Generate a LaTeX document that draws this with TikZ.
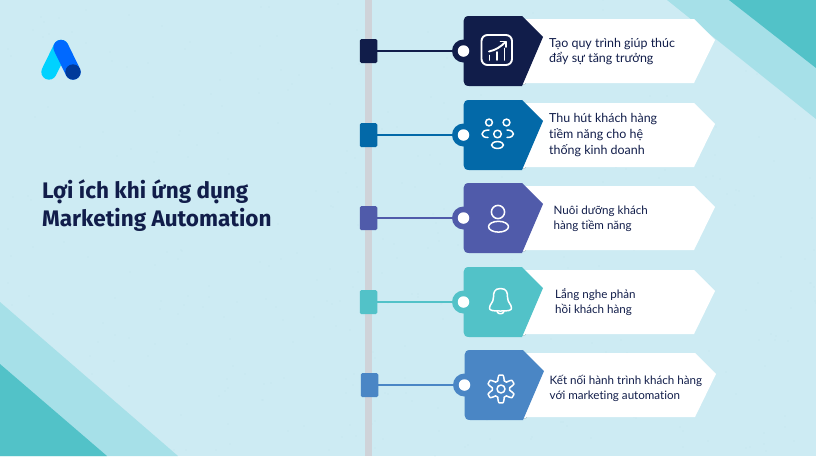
\documentclass[tikz,border=0pt]{standalone}
\usepackage{fontspec}
\setmainfont[Ligatures=NoCommon]{Lato}
\newfontfamily\ttlfont{Fira Sans}
\definecolor{bgc}{HTML}{CDEBF3}
\definecolor{bandl}{HTML}{A6E0E8}
\definecolor{bandd}{HTML}{52C2C8}
\definecolor{rail}{HTML}{CFD3D9}
\definecolor{ink}{HTML}{111D4A}
\definecolor{shade}{HTML}{C3D3DA}
\definecolor{dotc}{HTML}{B4DCE6}
\definecolor{cOne}{HTML}{111D4A}
\definecolor{cTwo}{HTML}{0369A8}
\definecolor{cThree}{HTML}{505BAA}
\definecolor{cFour}{HTML}{52C2C8}
\definecolor{cFive}{HTML}{4A86C5}
\tikzset{
  pin/.style={draw=none,fill=#1,rounded corners=1.5pt,minimum width=17.5pt,minimum height=24pt,inner sep=0pt},
  hole/.style={circle,fill=white,draw=none,minimum size=11.5pt,inner sep=0pt},
  wire/.style={line width=1.5pt},
  ico/.style={draw=white,line width=1.5pt,line cap=round,line join=round},
  lbl/.style={anchor=west,inner sep=0pt,font=\fontsize{11.6}{15}\selectfont,text=ink,align=left},
  lblbig/.style={anchor=west,inner sep=0pt,font=\fontsize{12.45}{15.7}\selectfont,text=ink,align=left},
  ttl/.style={anchor=west,inner sep=0pt,font=\ttlfont\fontsize{22.5}{28}\selectfont\bfseries,text=ink,align=left}
}
\newcommand{\tagrow}[4]{% #1 colour, #2 yshift, #3 xshift, #4 id
  \begin{scope}[shift={(#3,#2)}]
    \fill[shade] (524,30) -- (545,38) -- (525,84) -- (523,84) -- cycle;
    \fill[white] (520,19) -- (694,19) -- (715,40) -- (694,83) -- (520,83) -- cycle;
    \node[pin=#1] (sq#4) at (368.5,51) {};
    \node[hole] (h#4) at (463.5,51) {};
    \draw[wire,#1] (sq#4) -- (h#4);
    \fill[#1] (463.5,51) circle (11.5);
    \fill[#1] (469,16) -- (522,16) -- (543,37) -- (522,86) -- (469,86) .. controls (465.5,86) and (463.5,84) .. (463.5,81) -- (463.5,21) .. controls (463.5,18) and (465.5,16) .. (469,16) -- cycle;
    \node[hole] at (463.5,51) {};
  \end{scope}
}
\begin{document}
\begin{tikzpicture}[x=1pt,y=-1pt]
\useasboundingbox (0,0) rectangle (816,456);
\fill[bgc] (0,0) rectangle (816,456);
% faint dot texture
\pgfmathsetseed{7}
\foreach \i in {1,...,420}{
  \pgfmathsetmacro{\px}{random(0,816)}
  \pgfmathsetmacro{\py}{random(0,456)}
  \fill[dotc] (\px,\py) circle (0.4);
}
% corner bands
\fill[bandl] (667,0) -- (816,0) -- (816,119) -- cycle;
\fill[bandd] (729,0) -- (816,0) -- (816,68) -- cycle;
\fill[bandl] (0,302) -- (178,456) -- (0,456) -- cycle;
\fill[bandd] (0,364) -- (107,456) -- (0,456) -- cycle;
% rail
\fill[rail] (365,0) rectangle (372,456);
% logo
\draw[line width=15.4pt,line cap=round,color={rgb,255:red,0;green,210;blue,255}] (49,72) -- (61,47.5);
\draw[line width=15.4pt,line cap=round,color={rgb,255:red,0;green,105;blue,255}] (61,47.5) -- (73,72);
\fill[color={rgb,255:red,0;green,58;blue,155}] (73,72) circle (7.7);
% title
\node[ttl] (title) at (42,206) {Lợi ích khi ứng dụng\\Marketing Automation};
% rows
\tagrow{cOne}{0}{0}{a}
\tagrow{cTwo}{84}{0}{b}
\tagrow{cThree}{167}{0}{c}
\tagrow{cFour}{251}{0}{d}
\tagrow{cFive}{334}{1}{e}
% labels
\node[lblbig] (la) at (549,51.5) {Tạo quy trình giúp thúc\\đẩy sự tăng trưởng};
\node[lblbig] (lb) at (549,135) {Thu hút khách hàng\\tiềm năng cho hệ\\thống kinh doanh};
\node[lbl] (lc) at (553.5,218.5) {Nuôi dưỡng khách\\hàng tiềm năng};
\node[lbl] (ld) at (555,302.5) {Lắng nghe phản\\hồi khách hàng};
\node[lbl] (le) at (549.5,388.5) {Kết nối hành trình khách hàng\\với marketing automation};
% icon 1: chart
\draw[ico,line width=1.9pt,rounded corners=6pt] (481.5,35) rectangle (512,65);
\draw[ico,line width=1.9pt] (489.5,55.5) -- (489.5,60) (497,52) -- (497,60) (504.5,48.5) -- (504.5,60);
\draw[ico,line width=1.9pt] (489,51.5) .. controls (496,50) and (501,46.5) .. (505.5,42);
\draw[ico,line width=1.9pt] (500.5,41.5) -- (506,41.5) -- (506,47);
% icon 2: people
\draw[ico] (489,122.5) circle (3.4) (506.5,122.5) circle (3.4);
\draw[ico] (497.5,134) circle (3.8);
\draw[ico] (497.5,145) ellipse (6 and 3.4);
\draw[ico] (489,130) .. controls (484,130) and (482,132) .. (482,134) .. controls (482,136) and (484,137.5) .. (488,137.5);
\draw[ico] (507,130) .. controls (511,130) and (513.5,132) .. (513.5,134) .. controls (513.5,136) and (511,137.5) .. (507,137.5);
% icon 3: person
\draw[ico] (498,212) circle (6.6);
\draw[ico] (498.5,226.7) ellipse (10 and 5.4);
% icon 4: bell
\draw[ico] (500.5,288.5) .. controls (494,288.5) and (493.5,293) .. (493.5,297) .. controls (493.5,303) and (489.5,304) .. (489.5,308) .. controls (489.5,310.5) and (492,311) .. (500.5,311) .. controls (509,311) and (511.5,310.5) .. (511.5,308) .. controls (511.5,304) and (507.5,303) .. (507.5,297) .. controls (507.5,293) and (507,288.5) .. (500.5,288.5) -- cycle;
\draw[ico] (497,311.5) .. controls (498,314.5) and (503,314.5) .. (504,311.5);
% icon 5: gear
\draw[ico,smooth,samples=181,domain=0:360] plot ({501+(11.3+2.6*max(-1,min(1,-1.6*cos(6*\x))))*cos(\x)},{389+(11.3+2.6*max(-1,min(1,-1.6*cos(6*\x))))*sin(\x)}) -- cycle;
\draw[ico] (501,389) circle (4);
\end{tikzpicture}
\end{document}
